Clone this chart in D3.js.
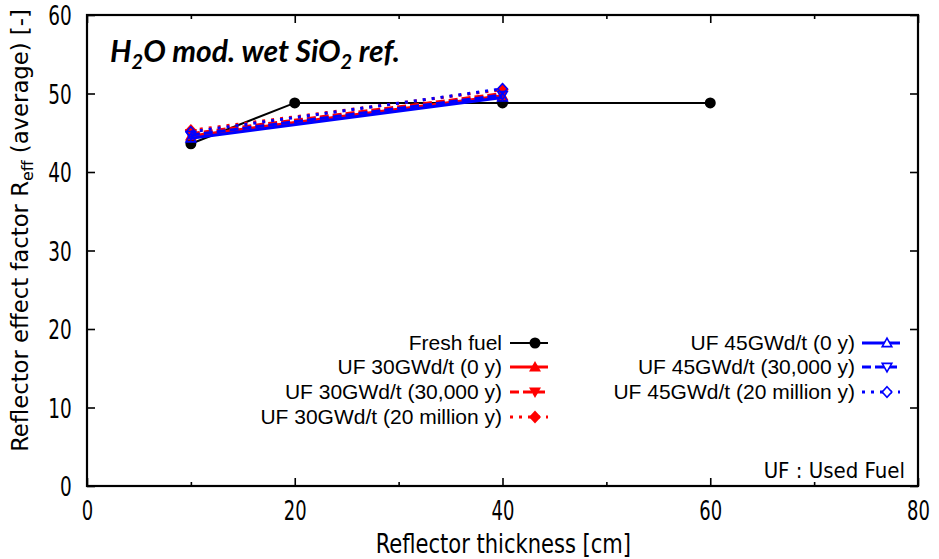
<!DOCTYPE html>
<html><head><meta charset="utf-8">
<script src="https://cdn.jsdelivr.net/npm/d3@7"></script>
<style>body{margin:0;background:#fff}svg{display:block}</style>
</head><body><svg id="c" width="939" height="559"></svg>
<script>
const thickness = [10, 20, 40, 60];
const thicknessUF = [10, 40];
const freshFuel = [43.6, 48.8, 48.8, 48.8];
const uf30_0y = [44.6, 49.7];
const uf30_30ky = [44.9, 50.0];
const uf30_20My = [45.3, 50.5];
const uf45_0y = [44.3, 49.5];
const uf45_30ky = [44.7, 49.8];
const uf45_20My = [45.1, 50.6];
const xTicks = [0, 20, 40, 60, 80];
const xMinorTicks = [10, 30, 50, 70];
const yTicks = [0, 10, 20, 30, 40, 50, 60];

const series = [
  {name:"Fresh fuel", xs:thickness, ys:freshFuel, color:"#000", dash:null, sym:"circle", fill:true, w:2},
  {name:"UF 30GWd/t (0 y)", xs:thicknessUF, ys:uf30_0y, color:"#ff0000", dash:null, sym:"tri", fill:true, w:3},
  {name:"UF 30GWd/t (30,000 y)", xs:thicknessUF, ys:uf30_30ky, color:"#ff0000", dash:"9,4", sym:"tridown", fill:true, w:3},
  {name:"UF 30GWd/t (20 million y)", xs:thicknessUF, ys:uf30_20My, color:"#ff0000", dash:"3,6", sym:"diamond", fill:true, w:3},
  {name:"UF 45GWd/t (0 y)", xs:thicknessUF, ys:uf45_0y, color:"#0000ff", dash:null, sym:"tri", fill:false, w:3},
  {name:"UF 45GWd/t (30,000 y)", xs:thicknessUF, ys:uf45_30ky, color:"#0000ff", dash:"9,4", sym:"tridown", fill:false, w:3},
  {name:"UF 45GWd/t (20 million y)", xs:thicknessUF, ys:uf45_20My, color:"#0000ff", dash:"3,6", sym:"diamond", fill:false, w:3}
];

const L=87, R=918, T=15, B=486;
const svg = d3.select("#c");
const x = d3.scaleLinear().domain([0,80]).range([L,R]);
const y = d3.scaleLinear().domain([0,60]).range([B,T]);

const tickFont = "'DejaVu Sans Condensed','DejaVu Sans',sans-serif";

const gx = svg.append("g").attr("transform",`translate(0,${B})`)
  .call(d3.axisBottom(x).tickValues(xTicks).tickSize(-8).tickPadding(15).tickFormat(d3.format("d")));
const gxm = svg.append("g").attr("transform",`translate(0,${B})`)
  .call(d3.axisBottom(x).tickValues(xMinorTicks).tickSize(-4).tickFormat(""));
const gxt = svg.append("g").attr("transform",`translate(0,${T})`)
  .call(d3.axisTop(x).tickValues(xTicks).tickSize(-8).tickFormat(""));
const gxtm = svg.append("g").attr("transform",`translate(0,${T})`)
  .call(d3.axisTop(x).tickValues(xMinorTicks).tickSize(-4).tickFormat(""));
const gy = svg.append("g").attr("transform",`translate(${L},0)`)
  .call(d3.axisLeft(y).tickValues(yTicks).tickSize(-8).tickPadding(20).tickFormat(d3.format("d")));
const gyr = svg.append("g").attr("transform",`translate(${R},0)`)
  .call(d3.axisRight(y).tickValues(yTicks).tickSize(-8).tickFormat(""));
[gx,gxm,gxt,gxtm,gy,gyr].forEach(g=>{
  g.select(".domain").remove();
  g.selectAll(".tick line").attr("stroke","#000").attr("stroke-width",1.6);
  g.selectAll("text").attr("font-family",tickFont).attr("font-size",27).attr("fill","#000");
});
gx.selectAll("text").attr("transform","scale(0.74,1)");
gy.selectAll("text").attr("transform","scale(0.76,1)").attr("dy","0.36em");

svg.append("rect").attr("x",L).attr("y",T).attr("width",R-L).attr("height",B-T)
  .attr("fill","none").attr("stroke","#000").attr("stroke-width",2.2);

svg.append("text").attr("x",(L+R)/2/0.9+1).attr("y",553).attr("text-anchor","middle")
  .attr("transform","scale(0.9,1)")
  .attr("font-family",tickFont).attr("font-size",26).text("Reflector thickness [cm]");
const yt = svg.append("text").attr("text-anchor","middle")
  .attr("transform",`translate(28,${(T+B)/2 - 20}) rotate(-90) scale(1.1,1)`)
  .attr("font-family",tickFont).attr("font-size",23);
yt.append("tspan").text("Reflector effect factor R");
yt.append("tspan").attr("font-size",16).attr("dy",5).text("eff");
yt.append("tspan").attr("dy",-5).text(" (average) [-]");

const tt = svg.append("text").attr("x",110).attr("y",62)
  .attr("font-family","Lato,'Open Sans',sans-serif").attr("font-weight","bold").attr("font-style","italic").attr("font-size",30);
tt.append("tspan").text("H");
tt.append("tspan").attr("font-size",20).attr("dy",7).text("2");
tt.append("tspan").attr("dy",-7).text("O mod. wet SiO");
tt.append("tspan").attr("font-size",20).attr("dy",7).text("2");
tt.append("tspan").attr("dy",-7).text(" ref.");

svg.append("text").attr("x",905).attr("y",478).attr("text-anchor","end")
  .attr("font-family",tickFont).attr("font-size",22).text("UF : Used Fuel");

function symPath(sym, k){
  k = k||1;
  if(sym==="circle") return d3.symbol(d3.symbolCircle,95)();
  if(sym==="tri") return `M0,${-6*k}L${6*k},${4.5*k}L${-6*k},${4.5*k}Z`;
  if(sym==="tridown") return `M0,${6*k}L${6*k},${-4.5*k}L${-6*k},${-4.5*k}Z`;
  if(sym==="diamond") return `M0,${-6.5*k}L${6*k},0L0,${6.5*k}L${-6*k},0Z`;
}

const line = d3.line();
series.forEach(s=>{
  const pts = s.xs.map((v,i)=>[x(v), y(s.ys[i])]);
  svg.append("path").attr("d",line(pts)).attr("fill","none").attr("stroke",s.color)
    .attr("stroke-width",s.w).attr("stroke-dasharray",s.dash);
  pts.forEach(p=>{
    svg.append("path").attr("d",symPath(s.sym, s.fill?1:0.8)).attr("transform",`translate(${p[0]},${p[1]})`)
      .attr("fill",s.fill? s.color : "none").attr("stroke",s.color).attr("stroke-width",s.fill?0:1.6);
  });
});

const legRows = [
  {i:0, tx:502, sx:510, y:343},
  {i:1, tx:502, sx:510, y:367},
  {i:2, tx:502, sx:510, y:392},
  {i:3, tx:502, sx:510, y:417},
  {i:4, tx:855, sx:862, y:343},
  {i:5, tx:855, sx:862, y:367},
  {i:6, tx:855, sx:862, y:392}
];
legRows.forEach(r=>{
  const s = series[r.i];
  svg.append("text").attr("x",r.tx).attr("y",r.y).attr("dy","0.35em").attr("text-anchor","end")
    .attr("font-family","'Liberation Sans',Arial,sans-serif").attr("font-size",21).text(s.name);
  svg.append("path").attr("d",line([[r.sx,r.y],[r.sx+38,r.y]])).attr("fill","none").attr("stroke",s.color)
    .attr("stroke-width",s.w).attr("stroke-dasharray",s.dash);
  svg.append("path").attr("d",symPath(s.sym, s.fill?1:0.8)).attr("transform",`translate(${r.sx+25},${r.y})`)
    .attr("fill",s.fill? s.color : "#fff").attr("stroke",s.color).attr("stroke-width",s.fill?0:1.6);
});
</script></body></html>
